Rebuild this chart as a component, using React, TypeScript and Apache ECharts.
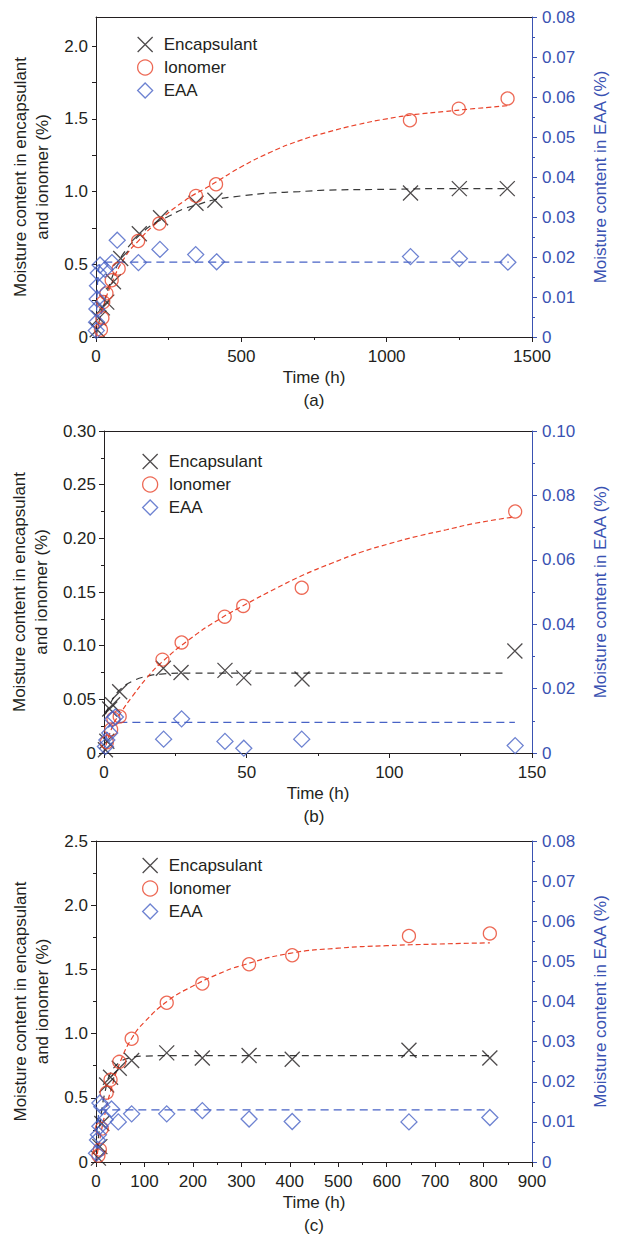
import React, { useEffect, useRef } from 'react';
import * as echarts from 'echarts';

type Pt = [number, number];

// ---------------- Panel (a) ----------------
const aEncapsulant: Pt[] = [[4, 0.05], [10, 0.13], [22, 0.2], [37, 0.24], [60, 0.38], [85, 0.54], [149, 0.71], [222, 0.82], [344, 0.92], [409, 0.94], [1082, 0.99], [1250, 1.02], [1415, 1.02]];
const aIonomer: Pt[] = [[17, 0.05], [22, 0.13], [25, 0.24], [36, 0.3], [54, 0.39], [78, 0.47], [145, 0.66], [218, 0.78], [344, 0.97], [413, 1.05], [1080, 1.49], [1248, 1.57], [1416, 1.64]];
const aEAA: Pt[] = [[1, 0.0016], [2, 0.0037], [3, 0.007], [4, 0.0095], [5, 0.0128], [8, 0.016], [14, 0.018], [31, 0.0169], [55, 0.0186], [73, 0.0242], [146, 0.0186], [220, 0.0219], [343, 0.0206], [415, 0.0188], [1082, 0.0201], [1250, 0.0196], [1417, 0.0187]];
const aEncapsulantFit: Pt[] = [[0, 0], [10, 0.1], [25, 0.22], [50, 0.38], [75, 0.5], [100, 0.59], [150, 0.7], [200, 0.78], [250, 0.83], [300, 0.88], [350, 0.91], [400, 0.94], [500, 0.97], [600, 0.99], [700, 1.0], [800, 1.01], [1000, 1.015], [1200, 1.02], [1416, 1.02]];
const aIonomerFit: Pt[] = [[0, 0], [20, 0.17], [50, 0.35], [100, 0.55], [150, 0.67], [200, 0.77], [300, 0.93], [400, 1.05], [500, 1.17], [600, 1.27], [700, 1.35], [800, 1.41], [900, 1.46], [1000, 1.5], [1100, 1.53], [1200, 1.55], [1300, 1.57], [1416, 1.59]];
const aEAAFit: Pt[] = [[0, 0], [2, 0.006], [4, 0.011], [7, 0.015], [12, 0.0178], [20, 0.0186], [40, 0.0187], [1420, 0.0187]];

// ---------------- Panel (b) ----------------
const bEncapsulant: Pt[] = [[0.5, 0.003], [1, 0.011], [2, 0.041], [3, 0.045], [5.5, 0.057], [20.8, 0.079], [27, 0.075], [42.4, 0.077], [49, 0.07], [69.4, 0.069], [144, 0.095]];
const bIonomer: Pt[] = [[1, 0.01], [2.5, 0.022], [3.3, 0.032], [5.5, 0.034], [20.5, 0.087], [27.2, 0.103], [42.3, 0.127], [48.8, 0.137], [69.3, 0.154], [144.1, 0.225]];
const bEAA: Pt[] = [[0.5, 0.002], [1, 0.004], [2, 0.0062], [3, 0.0105], [4, 0.0112], [20.9, 0.0043], [27.2, 0.0106], [42.4, 0.0036], [49, 0.0015], [69.3, 0.0043], [144.1, 0.0023]];
const bEncapsulantFit: Pt[] = [[0.5, 0.036], [2, 0.045], [4, 0.054], [6, 0.06], [10, 0.067], [15, 0.0715], [20, 0.0735], [30, 0.0745], [50, 0.0745], [140, 0.0745]];
const bIonomerFit: Pt[] = [[0, 0], [3, 0.025], [6, 0.038], [10, 0.053], [15, 0.07], [20, 0.084], [30, 0.106], [40, 0.124], [50, 0.139], [60, 0.153], [70, 0.166], [80, 0.177], [90, 0.187], [100, 0.195], [110, 0.202], [120, 0.208], [130, 0.214], [144, 0.22]];
const bEAAFit: Pt[] = [[0, 0], [1, 0.006], [2, 0.0085], [4, 0.0095], [144, 0.0095]];

// ---------------- Panel (c) ----------------
const cEncapsulant: Pt[] = [[5, 0.03], [8, 0.12], [12, 0.3], [22, 0.6], [30, 0.66], [48, 0.73], [73.6, 0.79], [146, 0.85], [219.5, 0.81], [316, 0.83], [405, 0.8], [646, 0.87], [813, 0.81]];
const cIonomer: Pt[] = [[5, 0.05], [8, 0.096], [12, 0.26], [22, 0.54], [30, 0.64], [48, 0.78], [73.6, 0.96], [146, 1.24], [219.5, 1.39], [316, 1.54], [405, 1.61], [646, 1.76], [813, 1.78]];
const cEAA: Pt[] = [[1, 0.0022], [3, 0.0055], [5, 0.0068], [8, 0.0089], [8, 0.0147], [12, 0.0138], [19, 0.0105], [32, 0.0132], [46, 0.01], [73.6, 0.012], [146, 0.012], [219.5, 0.0128], [316, 0.0107], [405, 0.0101], [646, 0.01], [813, 0.0111]];
const cEncapsulantFit: Pt[] = [[0, 0], [10, 0.35], [20, 0.57], [30, 0.69], [50, 0.78], [75, 0.815], [100, 0.825], [150, 0.828], [813, 0.828]];
const cIonomerFit: Pt[] = [[0, 0], [10, 0.22], [20, 0.4], [30, 0.55], [50, 0.78], [75, 0.97], [100, 1.09], [150, 1.26], [200, 1.37], [250, 1.46], [300, 1.53], [400, 1.625], [500, 1.665], [600, 1.685], [700, 1.697], [813, 1.707]];
const cEAAFit: Pt[] = [[0, 0], [2, 0.007], [5, 0.0115], [10, 0.013], [813, 0.013]];

// ---------------- Axis ranges / labels ----------------
const xTitle = 'Time (h)';
const leftTitle = 'Moisture content in encapsulant\nand ionomer (%)';
const rightTitle = 'Moisture content in EAA (%)';
const legendNames = ['Encapsulant', 'Ionomer', 'EAA'];
const panelLabels = ['(a)', '(b)', '(c)'];
const xMaxes = [1500, 150, 900];
const xIntervals = [500, 50, 100];
const leftMaxes = [2.2, 0.3, 2.5];
const leftIntervals = [0.5, 0.05, 0.5];
const leftDecimals = [1, 2, 1];
const rightMaxes = [0.08, 0.1, 0.08];
const rightIntervals = [0.01, 0.02, 0.01];
const aLeftTickValues = [0, 0.25, 0.5, 0.75, 1, 1.25, 1.5, 1.75, 2];
const aLeftLabelValues = [0, 0.5, 1, 1.5, 2];

const FONT = '"Liberation Sans", Arial, Helvetica, sans-serif';
const INK = '#231f20';
const RED = '#e9432b';
const BLUE = '#4863c6';
const AXIS_BLUE = '#3a52b2';
const X_PATH = 'path://M0,0L10,10M10,0L0,10';
const FS = 17;

const layout = [
  { top: 17, height: 320, legendLeft: 132, legendTop: 31 },
  { top: 431, height: 322, legendLeft: 137, legendTop: 448 },
  { top: 841, height: 321, legendLeft: 137, legendTop: 852 },
];

const data = [
  { enc: aEncapsulant, ion: aIonomer, eaa: aEAA, encFit: aEncapsulantFit, ionFit: aIonomerFit, eaaFit: aEAAFit },
  { enc: bEncapsulant, ion: bIonomer, eaa: bEAA, encFit: bEncapsulantFit, ionFit: bIonomerFit, eaaFit: bEAAFit },
  { enc: cEncapsulant, ion: cIonomer, eaa: cEAA, encFit: cEncapsulantFit, ionFit: cIonomerFit, eaaFit: cEAAFit },
];

function fmt(v: number, d: number) {
  if (Math.abs(v) < 1e-9) return '0';
  return v.toFixed(d);
}

function buildOption() {
  const grid: any[] = [];
  const xAxis: any[] = [];
  const yAxis: any[] = [];
  const series: any[] = [];
  const legend: any[] = [];
  const graphic: any[] = [];

  layout.forEach((L, i) => {
    grid.push({ left: 96, width: 436, top: L.top, height: L.height, containLabel: false });

    xAxis.push({
      type: 'value', gridIndex: i, min: 0, max: xMaxes[i], interval: xIntervals[i], position: 'bottom',
      name: xTitle, nameLocation: 'middle', nameGap: 32,
      nameTextStyle: { fontSize: FS, color: INK, fontFamily: FONT },
      axisLine: { show: true, onZero: false, lineStyle: { color: INK, width: 1 } },
      axisTick: { show: true, inside: false, length: 5, lineStyle: { color: INK } },
      minorTick: { show: true, splitNumber: 2, length: 3, lineStyle: { color: INK } },
      axisLabel: { fontSize: FS, color: INK, fontFamily: FONT, margin: 11, formatter: (v: number) => String(Math.round(v)) },
      splitLine: { show: false }, minorSplitLine: { show: false },
    });
    xAxis.push({
      type: 'value', gridIndex: i, min: 0, max: xMaxes[i], position: 'top',
      axisLine: { show: true, onZero: false, lineStyle: { color: INK, width: 1 } },
      axisTick: { show: false }, axisLabel: { show: false }, splitLine: { show: false },
    });

    const isA = i === 0;
    yAxis.push({
      type: 'value', gridIndex: i, min: 0, max: leftMaxes[i], interval: isA ? 0.25 : leftIntervals[i], position: 'left',
      name: leftTitle, nameLocation: 'middle', nameRotate: 90, nameGap: 38,
      nameTextStyle: { fontSize: FS, color: INK, fontFamily: FONT, lineHeight: 22, align: 'center' },
      axisLine: { show: true, onZero: false, lineStyle: { color: INK, width: 1 } },
      axisTick: isA
        ? { show: true, length: 4, customValues: aLeftTickValues, lineStyle: { color: INK } }
        : { show: true, length: 5, lineStyle: { color: INK } },
      minorTick: { show: !isA, splitNumber: 2, length: 3, lineStyle: { color: INK } },
      axisLabel: isA
        ? { fontSize: FS, color: INK, fontFamily: FONT, margin: 8, customValues: aLeftLabelValues, formatter: (v: number) => fmt(v, leftDecimals[i]) }
        : { fontSize: FS, color: INK, fontFamily: FONT, margin: 8, formatter: (v: number) => fmt(v, leftDecimals[i]) },
      splitLine: { show: false }, minorSplitLine: { show: false },
    });
    yAxis.push({
      type: 'value', gridIndex: i, min: 0, max: rightMaxes[i], interval: rightIntervals[i], position: 'right',
      name: rightTitle, nameLocation: 'middle', nameRotate: 90, nameGap: 60,
      nameTextStyle: { fontSize: FS, color: AXIS_BLUE, fontFamily: FONT },
      axisLine: { show: true, onZero: false, lineStyle: { color: AXIS_BLUE, width: 1 } },
      axisTick: { show: true, length: 5, lineStyle: { color: AXIS_BLUE } },
      minorTick: { show: true, splitNumber: 2, length: 3, lineStyle: { color: AXIS_BLUE } },
      axisLabel: { fontSize: FS, color: AXIS_BLUE, fontFamily: FONT, margin: 10, verticalAlign: 'middle', formatter: (v: number) => fmt(v, 2) },
      splitLine: { show: false }, minorSplitLine: { show: false },
    });

    const d = data[i];
    const xb = i * 2;
    const yl = i * 2;
    const yr = i * 2 + 1;
    const fitBase = { type: 'line', showSymbol: false, symbol: 'none', smooth: 0.5, silent: true, z: 2 };
    series.push({ ...fitBase, name: `Encapsulant fit ${panelLabels[i]}`, xAxisIndex: xb, yAxisIndex: yl, data: d.encFit, lineStyle: { color: '#3a3a3a', width: 1.2, type: [7, 5] } });
    series.push({ ...fitBase, name: `Ionomer fit ${panelLabels[i]}`, xAxisIndex: xb, yAxisIndex: yl, data: d.ionFit, lineStyle: { color: RED, width: 1.2, type: [5, 3] } });
    series.push({ ...fitBase, name: `EAA fit ${panelLabels[i]}`, xAxisIndex: xb, yAxisIndex: yr, data: d.eaaFit, lineStyle: { color: BLUE, width: 1.2, type: [8, 5] } });

    series.push({
      type: 'scatter', name: 'Encapsulant', xAxisIndex: xb, yAxisIndex: yl, data: d.enc, symbol: X_PATH, symbolSize: 15, z: 4,
      itemStyle: { color: 'rgba(0,0,0,0)', borderColor: INK, borderWidth: 1.3 },
    });
    series.push({
      type: 'scatter', name: 'Ionomer', xAxisIndex: xb, yAxisIndex: yl, data: d.ion, symbol: 'circle', symbolSize: 13, z: 4,
      itemStyle: { color: 'rgba(0,0,0,0)', borderColor: RED, borderWidth: 1.3 },
    });
    series.push({
      type: 'scatter', name: 'EAA', xAxisIndex: xb, yAxisIndex: yr, data: d.eaa, symbol: 'diamond', symbolSize: 16, z: 4,
      itemStyle: { color: 'rgba(0,0,0,0)', borderColor: BLUE, borderWidth: 1.3 },
    });

    legend.push({
      orient: 'vertical', left: L.legendLeft, top: L.legendTop, itemWidth: 15, itemHeight: 15, itemGap: 6,
      selectedMode: false,
      textStyle: { fontSize: FS, color: INK, fontFamily: FONT, padding: [0, 0, 0, 6] },
      data: [
        { name: legendNames[0], icon: X_PATH, itemStyle: { color: 'rgba(0,0,0,0)', borderColor: INK, borderWidth: 1.3 } },
        { name: legendNames[1], icon: 'circle', itemStyle: { color: 'rgba(0,0,0,0)', borderColor: RED, borderWidth: 1.3 } },
        { name: legendNames[2], icon: 'diamond', itemStyle: { color: 'rgba(0,0,0,0)', borderColor: BLUE, borderWidth: 1.3 } },
      ],
    });

    graphic.push({
      type: 'text', x: 314, y: L.top + L.height + 63,
      style: { text: panelLabels[i], fill: INK, fontSize: FS, fontFamily: FONT, align: 'center', verticalAlign: 'middle' },
    });
  });

  return {
    animation: false,
    backgroundColor: '#ffffff',
    textStyle: { fontFamily: FONT },
    grid, xAxis, yAxis, series, legend, graphic,
  };
}

export default function App() {
  const ref = useRef<HTMLDivElement>(null);
  useEffect(() => {
    if (!ref.current) return;
    const chart = echarts.init(ref.current, undefined, { renderer: 'svg' });
    chart.setOption(buildOption() as any);
    return () => chart.dispose();
  }, []);
  return (
    <div
      ref={ref}
      style={{ position: 'absolute', left: 0, top: 0, width: 618, height: 1237, background: '#ffffff' }}
    />
  );
}
